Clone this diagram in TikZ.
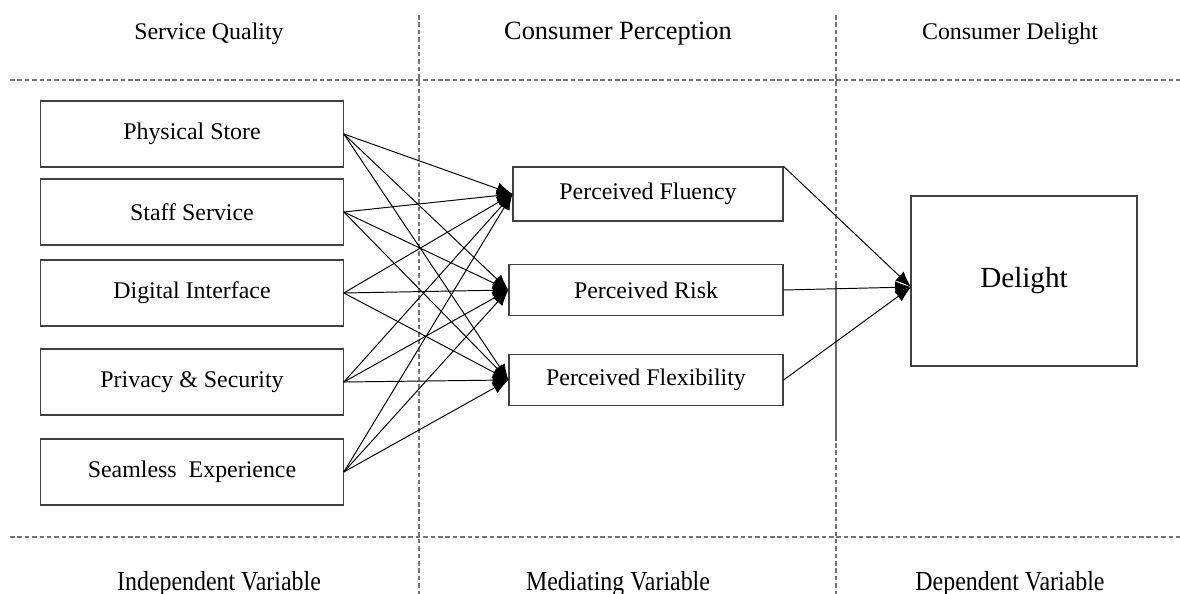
\documentclass[tikz,border=0pt]{standalone}
\usepackage{fontspec}
\setmainfont{Liberation Serif}
\usetikzlibrary{arrows.meta}

\tikzset{
  factor/.style={draw=black!75, line width=0.7pt, minimum width=6.05cm, minimum height=1.32cm,
    font=\fontsize{13.6}{16}\selectfont},
  mediator/.style={draw=black!75, line width=0.7pt, minimum width=5.48cm, minimum height=1.02cm,
    font=\fontsize{13.6}{16}\selectfont},
  outcome/.style={draw=black!75, line width=0.7pt, minimum width=4.52cm, minimum height=3.4cm,
    font=\fontsize{16.6}{20}\selectfont},
  heading/.style={font=\fontsize{13.6}{16}\selectfont},
  divider/.style={draw=black!55, line width=0.7pt, dash pattern=on 2.6pt off 1.6pt},
  link/.style={-{Latex[length=9pt,width=7pt]}, line width=0.55pt},
}

\begin{document}
\begin{tikzpicture}[x=0.02cm, y=-0.02cm]
  \useasboundingbox (0,0) rectangle (1180,594);

  % column and row separators
  \draw[divider] (10,80) -- (1180,80);
  \draw[divider] (10,537) -- (1180,537);
  \draw[divider] (419,15) -- (419,594);
  \draw[divider] (836,15) -- (836,594);
  \draw[draw=black!60, line width=0.7pt] (836,283) -- (836,441);

  % headings
  \node[heading] (quality)    at (209,34)  {Service Quality};
  \node[heading, font=\fontsize{15}{18}\selectfont] (perception) at (618,34) {Consumer Perception};
  \node[heading] (delighthead) at (1010,34) {Consumer Delight};

  \node[heading] (independent) at (219,584) {\scalebox{1}[1.15]{Independent Variable}};
  \node[heading] (mediating)   at (618,584) {\scalebox{1}[1.15]{Mediating Variable}};
  \node[heading] (dependent)   at (1010,584) {\scalebox{1}[1.15]{Dependent Variable}};

  % independent variables
  \node[factor] (store)    at (192,134) {Physical Store};
  \node[factor] (staff)    at (192,212) {Staff Service};
  \node[factor] (digital)  at (192,293) {Digital Interface};
  \node[factor] (privacy)  at (192,382) {Privacy \& Security};
  \node[factor] (seamless) at (192,472) {Seamless\ \ Experience};

  % mediators
  \node[mediator, minimum width=5.4cm, minimum height=1.08cm] (fluency) at (648,194) {Perceived Fluency};
  \node[mediator] (risk)        at (646,290) {Perceived Risk};
  \node[mediator] (flexibility) at (646,380) {Perceived Flexibility};

  % dependent variable
  \node[outcome] (delight) at (1024,281) {Delight};
  \coordinate (delightin) at (911,287);

  % every factor feeds every mediator
  \foreach \src in {store, staff, digital, privacy, seamless}
    \foreach \dst in {fluency, risk, flexibility}
      \draw[link] (\src.east) -- (\dst.west);

  \draw[link] (fluency.north east) -- (delightin);
  \draw[link] (risk.east) -- (delightin);
  \draw[link] (flexibility.east) -- (delightin);
\end{tikzpicture}
\end{document}
